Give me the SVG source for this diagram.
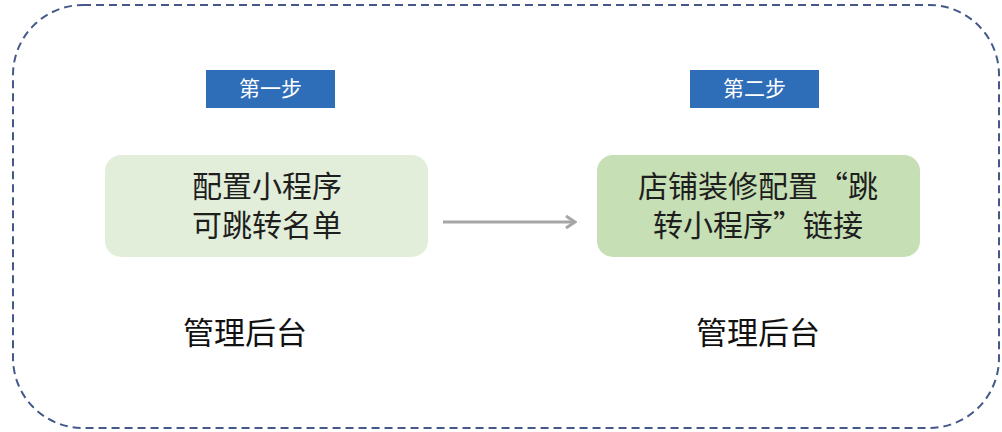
<svg xmlns="http://www.w3.org/2000/svg" width="1002" height="432" viewBox="0 0 1002 432">
<style>
.frame{fill:none;stroke:#44598a;stroke-width:2;stroke-dasharray:8 5}
.step{fill:#2e6eb8}
.steptxt{font-family:"Noto Sans CJK SC",sans-serif;font-size:21px;fill:#ffffff;text-anchor:middle}
.txt{font-family:"Noto Sans CJK SC",sans-serif;font-size:30px;fill:#1e1e1e;text-anchor:middle}
.lbl{font-family:"Noto Sans CJK SC",sans-serif;font-size:31px;fill:#111111;text-anchor:middle}
.conn{fill:none;stroke:#a6a6a6;stroke-width:3}
</style>
<defs>
<marker id="arr" markerWidth="12" markerHeight="14" refX="9" refY="7" orient="auto" markerUnits="userSpaceOnUse">
<path d="M1,1 L10,7 L1,13" fill="none" stroke="#a6a6a6" stroke-width="3"/>
</marker>
</defs>
<rect x="13" y="5" width="986" height="423" rx="70" ry="70" class="frame"/>
<g id="step1">
<rect x="206" y="70" width="129" height="38" class="step"/>
<text x="270.5" y="96" class="steptxt">第一步</text>
</g>
<g id="step2">
<rect x="690" y="70" width="129" height="38" class="step"/>
<text x="754.5" y="96" class="steptxt">第二步</text>
</g>
<g id="node1">
<rect x="105" y="155" width="323" height="102" rx="16" ry="16" fill="#e2eed9"/>
<text x="267" y="197" class="txt">配置小程序</text>
<text x="267" y="236" class="txt">可跳转名单</text>
</g>
<g id="node2">
<rect x="597" y="155" width="323" height="102" rx="16" ry="16" fill="#c6dfb4"/>
<text x="758" y="197" class="txt">店铺装修配置“跳</text>
<text x="758" y="236" class="txt">转小程序”链接</text>
</g>
<g id="label1">
<text x="245" y="344" class="lbl">管理后台</text>
</g>
<g id="label2">
<text x="758" y="344" class="lbl">管理后台</text>
</g>
<g id="connectors">
<line x1="443" y1="222" x2="574" y2="222" class="conn" marker-end="url(#arr)"/>
</g>
</svg>
